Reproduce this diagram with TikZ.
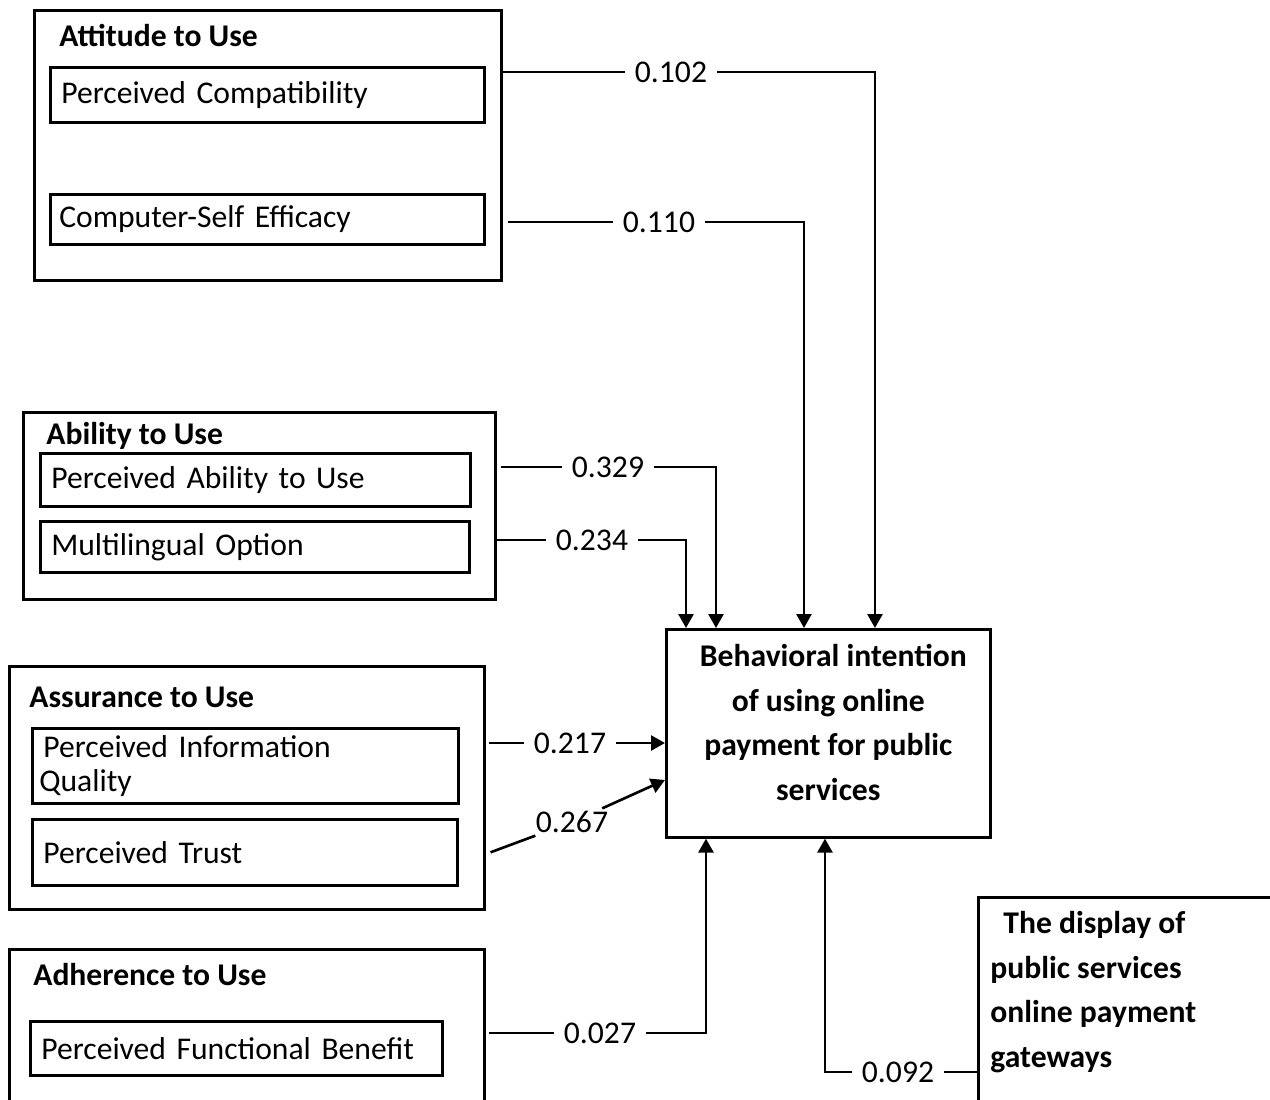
\documentclass[tikz,border=0pt]{standalone}
\usepackage{fontspec}
\setmainfont{Carlito}
\usetikzlibrary{positioning, arrows.meta}
\newcommand{\diagfont}{\fontsize{18}{25.5}\selectfont}
\tikzset{
  groupbox/.style={
    rectangle, draw=black, line width=1.5pt, anchor=north west, inner sep=0pt
  },
  itembox/.style={
    rectangle, draw=black, line width=1.5pt, anchor=north west,
    inner xsep=0.22cm, inner ysep=0pt, align=left
  },
  title/.style={anchor=west, inner sep=0pt, font=\diagfont\bfseries},
  weight/.style={inner xsep=0.2cm, inner ysep=0.05cm},
  link/.style={line width=1.5pt},
  arrow/.style={line width=1.5pt, -{Triangle[length=0.28cm,width=0.3cm]}}
}

\begin{document}
\begin{tikzpicture}[x=0.02cm, y=-0.02cm, font=\diagfont]
\clip (0,0) rectangle (1270,1099);

% Attitude group
\node[groupbox, minimum width=9.34cm, minimum height=5.40cm] (attitude) at (33,9) {};
\node[title] (attitudeT) at (59,35) {Attitude to Use};
\node[itembox, minimum width=8.68cm, minimum height=1.10cm, text width=8.24cm] (compat) at (49,66) {Perceived Compatibility};
\node[itembox, minimum width=8.68cm, minimum height=1.00cm, text width=8.32cm, inner xsep=0.18cm] (efficacy) at (49,193) {Computer-Self Efficacy};

% Ability group
\node[groupbox, minimum width=9.44cm, minimum height=3.74cm] (ability) at (22,411) {};
\node[title] (abilityT) at (46,436) {Ability to Use};
\node[itembox, minimum width=8.60cm, minimum height=1.06cm, text width=8.16cm] (abuse) at (39,452) {Perceived Ability to Use};
\node[itembox, minimum width=8.58cm, minimum height=1.02cm, text width=8.14cm] (multi) at (39,520) {Multilingual Option};

% Assurance group
\node[groupbox, minimum width=9.50cm, minimum height=4.86cm] (assurance) at (8,665) {};
\node[title] (assuranceT) at (29,697) {Assurance to Use};
\node[itembox, minimum width=8.52cm, minimum height=1.50cm, text width=8.08cm] (infoq) at (31,727) {Perceived Information\\[-6pt]\hspace*{-0.08cm}Quality};
\node[itembox, minimum width=8.50cm, minimum height=1.32cm, text width=8.06cm] (trust) at (31,818) {Perceived Trust};

% Adherence group
\node[groupbox, minimum width=9.50cm, minimum height=4.00cm] (adherence) at (8,948) {};
\node[title] (adherenceT) at (33,975) {Adherence to Use};
\node[itembox, minimum width=8.24cm, minimum height=1.08cm, text width=7.80cm] (benefit) at (29,1020) {Perceived Functional Benefit};

% Outcome and gateway display
\node[groupbox, minimum width=6.48cm, minimum height=4.16cm, align=center, font=\diagfont\bfseries] (bi) at (665,628) {\hspace*{0.2cm}Behavioral intention\\of using online\\payment for public\\services\\[-13pt]\mbox{}};
\node[groupbox, minimum width=8.00cm, minimum height=6.00cm] (disp) at (977,896) {};
\node[anchor=west, inner sep=0pt, align=left, font=\diagfont\bfseries] (dispT) at (990,992) {\hspace*{0.26cm}The display of\\public services\\online payment\\gateways};

% Entry points on the outcome box
\coordinate (in102) at ([xshift=4.20cm]bi.north west);
\coordinate (in110) at ([xshift=2.78cm]bi.north west);
\coordinate (in329) at ([xshift=1.02cm]bi.north west);
\coordinate (in234) at ([xshift=0.42cm]bi.north west);
\coordinate (in267) at ([yshift=-3.04cm]bi.north west);
\coordinate (in027) at ([xshift=0.82cm]bi.south west);
\coordinate (in092) at ([xshift=3.20cm]bi.south west);

% Path weights
\node[weight] (w102) at (671,72) {0.102};
\node[weight] (w110) at (659,222) {0.110};
\node[weight] (w329) at (608,467) {0.329};
\node[weight] (w234) at (592,540) {0.234};
\node[weight] (w217) at (570,743) {0.217};
\node[weight] (w267) at (572,822) {0.267};
\node[weight] (w027) at (600,1033) {0.027};
\node[weight] (w092) at (898,1072) {0.092};

% Connectors
\draw[link] (attitude.east |- w102) -- (w102);
\draw[arrow] (w102) -| (in102);
\draw[link] ([xshift=0.1cm]attitude.east |- w110) -- (w110);
\draw[arrow] (w110) -| (in110);
\draw[link] ([xshift=0.08cm]ability.east |- w329) -- (w329);
\draw[arrow] (w329) -| (in329);
\draw[link] (ability.east |- w234) -- (w234);
\draw[arrow] (w234) -| (in234);
\draw[link] ([xshift=0.06cm]assurance.east |- w217) -- (w217);
\draw[arrow] (w217) -- (bi.west |- w217);
\draw[link] ([xshift=0.1cm]assurance.east |- trust) -- (w267);
\draw[arrow] (w267) -- (in267);
\draw[link] ([xshift=0.06cm]adherence.east |- w027) -- (w027);
\draw[arrow] (w027) -| (in027);
\draw[link] (disp.west |- w092) -- (w092);
\draw[arrow] (w092) -| (in092);

\end{tikzpicture}
\end{document}
